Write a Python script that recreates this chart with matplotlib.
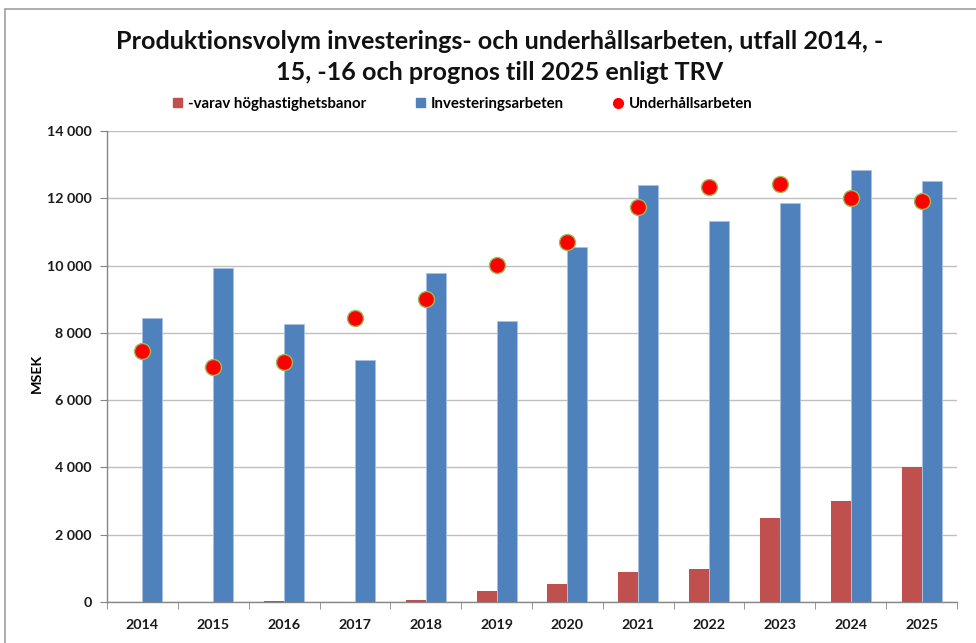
import matplotlib
matplotlib.use("Agg")
import matplotlib.pyplot as plt
from matplotlib.ticker import FuncFormatter, MultipleLocator, FixedLocator
from matplotlib.patches import Patch, Rectangle
from matplotlib.lines import Line2D
import numpy as np

years = ["2014", "2015", "2016", "2017", "2018", "2019", "2020", "2021", "2022", "2023", "2024", "2025"]
hoghastighet = [0, 0, 20, 0, 60, 330, 540, 880, 990, 2500, 3000, 4000]
investering = [8430, 9930, 8260, 7180, 9790, 8340, 10540, 12400, 11310, 11850, 12830, 12520]
underhall = [7450, 6980, 7120, 8440, 9000, 10020, 10710, 11750, 12340, 12410, 12010, 11910]

title = "Produktionsvolym investerings- och underhållsarbeten, utfall 2014, -\n15, -16 och prognos till 2025 enligt TRV"
ylabel = "MSEK"
labels = ["-varav höghastighetsbanor", "Investeringsarbeten", "Underhållsarbeten"]

RED = "#C0504D"
BLUE = "#4F81BD"
DOT = "#FF0000"
DOT_EDGE = "#9BBB59"

plt.rcParams['font.family'] = ['Lato', 'DejaVu Sans']

fig = plt.figure(figsize=(9.76, 6.43), dpi=100)
ax = fig.add_axes([107/976, 41/643, 850/976, 471/643])

x = np.arange(len(years))
w = 0.282
ax.bar(x - w/2, hoghastighet, width=w, color=RED, zorder=3)
ax.bar(x + w/2, investering, width=w, color=BLUE, edgecolor="#A9C1E0", linewidth=0.6, zorder=3)
ax.plot(x, underhall, linestyle="none", marker="o", markersize=11.5,
        markerfacecolor=DOT, markeredgecolor=DOT_EDGE, markeredgewidth=1.0, zorder=4)

ax.set_xlim(-0.5, len(years) - 0.5)
ax.set_ylim(0, 14000)
ax.yaxis.set_major_locator(MultipleLocator(2000))
ax.yaxis.set_major_formatter(FuncFormatter(lambda v, p: f"{int(v):,}".replace(",", " ")))
ax.grid(axis="y", color="#BFBFBF", linewidth=1.0, zorder=0)
ax.set_axisbelow(True)

ax.set_xticks(x)
ax.set_xticklabels(years)
ax.xaxis.set_minor_locator(FixedLocator(np.arange(-0.5, len(years), 1.0)))
ax.tick_params(axis="x", which="major", length=0, pad=12, labelsize=10.3)
ax.tick_params(axis="x", which="minor", length=5, color="#868686", direction="out")
ax.tick_params(axis="y", length=5, color="#868686", direction="out", labelsize=10.3, pad=6)
for lab in ax.get_xticklabels() + ax.get_yticklabels():
    lab.set_fontweight("bold")
    lab.set_color("#1a1a1a")

for s in ["top", "right"]:
    ax.spines[s].set_visible(False)
for s in ["left", "bottom"]:
    ax.spines[s].set_color("#868686")
    ax.spines[s].set_linewidth(1.0)

ax.set_ylabel(ylabel, fontsize=10.3, fontweight="bold")
ax.yaxis.set_label_coords(-0.076, 0.485)

fig.text(500/976, 1 - 57/643, title, ha="center", va="center", fontsize=18.1,
         fontweight="bold", linespacing=1.45, color="#111111")

handles = [
    Patch(facecolor=RED, edgecolor=RED),
    Patch(facecolor=BLUE, edgecolor=BLUE),
    Line2D([0], [0], linestyle="none", marker="o", markersize=8,
           markerfacecolor=DOT, markeredgecolor=DOT, markeredgewidth=0),
]
leg = fig.legend(handles, labels, ncol=3, loc="center", bbox_to_anchor=(463/976, 1 - 104/643),
                 frameon=False, handlelength=0.6, handleheight=0.6, handletextpad=0.4,
                 columnspacing=3.3, prop={"weight": "bold", "size": 10.8})

# outer chart frame
fig.add_artist(Rectangle((5/976, -0.05), 1.2, 1 - 9/643 + 0.05, transform=fig.transFigure,
                         fill=False, edgecolor="#A0A0A0", linewidth=1.2))

fig.savefig("out.png", dpi=100, facecolor="white")
